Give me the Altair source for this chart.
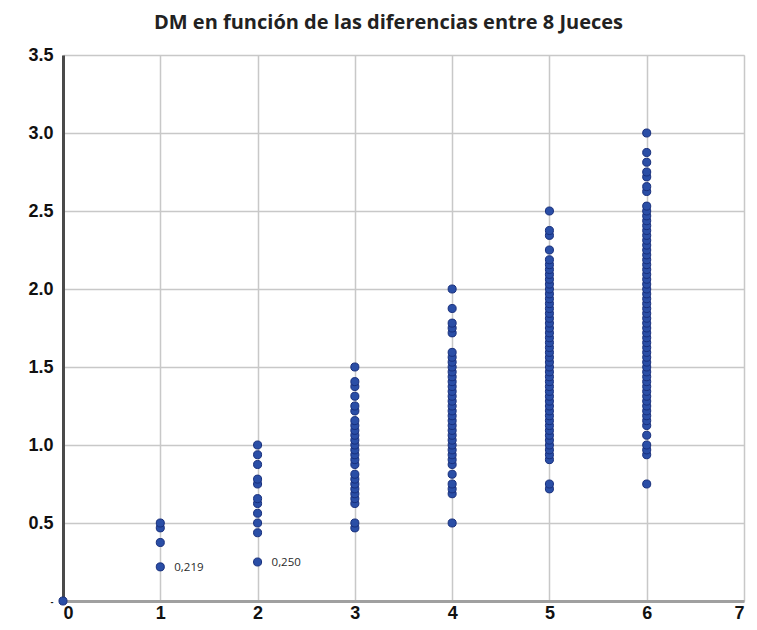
import altair as alt
import pandas as pd

# Differences between judges (x) and DM values (y)
judges_diff = [0, 1, 2, 3, 4, 5, 6]

dm_0 = [0.0]
dm_1 = [0.21875, 0.375, 0.46875, 0.5]
dm_2 = [0.25, 0.4375, 0.5, 0.5625, 0.625, 0.65625, 0.75, 0.78125, 0.875, 0.9375, 1.0]
dm_3 = [0.46875, 0.5, 0.625, 0.65625, 0.6875, 0.71875, 0.75, 0.78125, 0.8125,
        0.875, 0.90625, 0.9375, 0.96875, 1.0, 1.03125, 1.0625, 1.09375, 1.125,
        1.15625, 1.21875, 1.25, 1.3125, 1.375, 1.40625, 1.5]
dm_4 = [0.5, 0.6875, 0.71875, 0.75, 0.8125,
        0.875, 0.90625, 0.9375, 0.96875, 1.0, 1.03125, 1.0625, 1.09375, 1.125,
        1.15625, 1.1875, 1.21875, 1.25, 1.28125, 1.3125, 1.34375, 1.375, 1.40625,
        1.4375, 1.46875, 1.5, 1.53125, 1.5625, 1.59375,
        1.71875, 1.75, 1.78125, 1.875, 2.0]
dm_5 = [0.71875, 0.75,
        0.90625, 0.9375, 0.96875, 1.0, 1.03125, 1.0625, 1.09375, 1.125, 1.15625,
        1.1875, 1.21875, 1.25, 1.28125, 1.3125, 1.34375, 1.375, 1.40625, 1.4375,
        1.46875, 1.5, 1.53125, 1.5625, 1.59375, 1.625, 1.65625, 1.6875, 1.71875,
        1.75, 1.78125, 1.8125, 1.84375, 1.875, 1.90625, 1.9375, 1.96875, 2.0,
        2.03125, 2.0625, 2.09375, 2.125, 2.15625, 2.1875,
        2.25, 2.34375, 2.375, 2.5]
dm_6 = [0.75, 0.9375, 0.96875, 1.0, 1.0625,
        1.125, 1.15625, 1.1875, 1.21875, 1.25, 1.28125, 1.3125, 1.34375, 1.375,
        1.40625, 1.4375, 1.46875, 1.5, 1.53125, 1.5625, 1.59375, 1.625, 1.65625,
        1.6875, 1.71875, 1.75, 1.78125, 1.8125, 1.84375, 1.875, 1.90625, 1.9375,
        1.96875, 2.0, 2.03125, 2.0625, 2.09375, 2.125, 2.15625, 2.1875, 2.21875,
        2.25, 2.28125, 2.3125, 2.34375, 2.375, 2.40625, 2.4375, 2.46875, 2.5,
        2.53125,
        2.625, 2.65625, 2.71875, 2.75, 2.8125, 2.875, 3.0]

groups = [dm_0, dm_1, dm_2, dm_3, dm_4, dm_5, dm_6]

label_x = [1, 2]
label_y = [0.21875, 0.25]
label_text = ["0,219", "0,250"]

x_ticks = [0, 1, 2, 3, 4, 5, 6, 7]
y_ticks = [0, 0.5, 1.0, 1.5, 2.0, 2.5, 3.0, 3.5]

rows = [{"diff": d, "dm": v} for d, vals in zip(judges_diff, groups) for v in vals]
df = pd.DataFrame(rows)
lab_df = pd.DataFrame({"diff": label_x, "dm": label_y, "txt": label_text})

x_enc = alt.X("diff:Q",
              scale=alt.Scale(domain=[0, 7], nice=False, zero=False),
              axis=alt.Axis(values=x_ticks, format="d", title=None,
                            labelFont="Liberation Sans", labelFontSize=18,
                            labelFontWeight="bold", labelColor="#111111",
                            labelPadding=3, ticks=False,
                            domainColor="#a0a0a0", domainWidth=3,
                            gridColor="#c8c8c8", gridWidth=1.5))
y_enc = alt.Y("dm:Q",
              scale=alt.Scale(domain=[0, 3.5], nice=False, zero=False),
              axis=alt.Axis(values=y_ticks, title=None,
                            labelExpr="datum.value == 0 ? '-' : format(datum.value, '.1f')",
                            labelFont="Liberation Sans",
                            labelFontSize={"condition": {"test": "datum.value == 0", "value": 9}, "value": 18},
                            labelFontWeight="bold", labelColor="#111111",
                            labelPadding=10, ticks=False,
                            domainColor="#4a4a4a", domainWidth=3,
                            gridColor="#c8c8c8", gridWidth=1.5))

points = alt.Chart(df).mark_circle(
    size=65, opacity=1, color="#2a4ea6", stroke="#182f7c", strokeWidth=1
).encode(x=x_enc, y=y_enc)

labels = alt.Chart(lab_df).mark_text(
    align="left", baseline="middle", dx=14, dy=1,
    font="Open Sans", fontSize=11.5, color="#2a2a2a"
).encode(x="diff:Q", y="dm:Q", text="txt:N")

chart = alt.layer(points, labels).properties(
    width=681, height=546,
    title=alt.TitleParams(
        "DM en función de las diferencias entre 8 Jueces",
        font="Open Sans", fontSize=20, fontWeight="bold", color="#222222",
        anchor="middle", dx=-15, offset=13
    ),
    autosize=alt.AutoSizeParams(type="none"),
    padding={"left": 55, "top": 47, "right": 5, "bottom": 26},
).configure_view(stroke=None).configure(background="white")

chart.save("out.html", embed_options={"renderer": "svg", "actions": False})
